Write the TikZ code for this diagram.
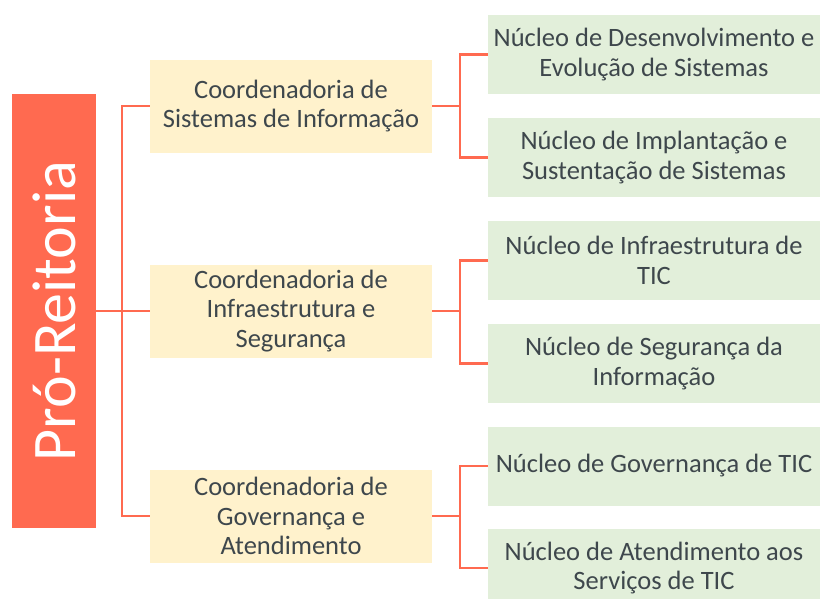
\documentclass[tikz,border=0pt]{standalone}
\usepackage{fontspec}
\setmainfont{Carlito}
\definecolor{prred}{HTML}{FF6A50}
\definecolor{coordfill}{HTML}{FFF2CC}
\definecolor{nucfill}{HTML}{E2EFDA}
\definecolor{txt}{HTML}{3E474C}
\begin{document}
\begin{tikzpicture}[x=1pt,y=-1pt,
  coordbox/.style={fill=coordfill, draw=none, minimum width=282pt, minimum height=93pt, inner sep=0pt, align=center, text=txt, font=\fontsize{26.5}{29.5}\selectfont},
  nucbox/.style={fill=nucfill, draw=none, minimum width=332pt, minimum height=79pt, inner sep=0pt, align=center, text=txt, font=\fontsize{26.5}{29.5}\selectfont},
  link/.style={draw=prred, line width=2.2pt}]
\useasboundingbox (0,0) rectangle (820,598);
\begin{scope}
\clip (0,0) rectangle (820,598);
\node[fill=prred, minimum width=84pt, minimum height=434pt, inner sep=0pt] (pr) at (54,311) {};
\node[rotate=90, text=white, font=\fontsize{62}{62}\selectfont] (prt) at (pr.center) {Pró-Reitoria};

\node[coordbox] (c1) at (291,106) {Coordenadoria de\\Sistemas de Informação};
\node[coordbox] (c2) at (291,311) {Coordenadoria de\\Infraestrutura e\\Segurança};
\node[coordbox] (c3) at (291,516) {Coordenadoria de\\Governança e\\Atendimento};

\node[nucbox] (n1) at (654,54.5) {Núcleo de Desenvolvimento e\\Evolução de Sistemas};
\node[nucbox] (n2) at (654,157.5) {Núcleo de Implantação e\\Sustentação de Sistemas};
\node[nucbox] (n3) at (654,260.5) {Núcleo de Infraestrutura de\\TIC};
\node[nucbox] (n4) at (654,363.5) {Núcleo de Segurança da\\Informação};
\node[nucbox] (n5) at (654,466) {Núcleo de Governança de TIC};
\node[nucbox] (n6) at (654,568) {Núcleo de Atendimento aos\\Serviços de TIC};

\coordinate (t) at (122,311);
\coordinate (j1) at (460,106);
\coordinate (j2) at (460,311);
\coordinate (j3) at (460,516);

\draw[link] (pr.east) -- (c2.west);
\draw[link] (c1.west) -| (t) |- (c3.west);
\draw[link] (c1.east) -- (j1);
\draw[link] (n1.west) -| (j1) |- (n2.west);
\draw[link] (c2.east) -- (j2);
\draw[link] (n3.west) -| (j2) |- (n4.west);
\draw[link] (c3.east) -- (j3);
\draw[link] (n5.west) -| (j3) |- (n6.west);
\end{scope}
\end{tikzpicture}
\end{document}
